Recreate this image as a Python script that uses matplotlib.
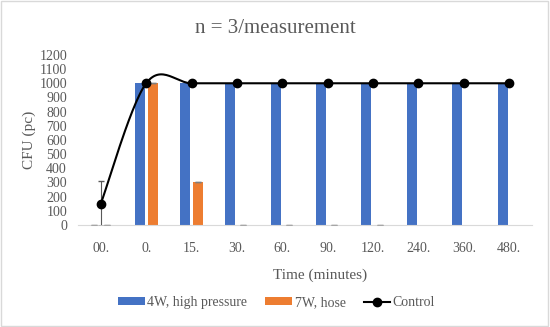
import numpy as np
import matplotlib.pyplot as plt
from matplotlib.patches import Rectangle

## data
times = ['00.', '0.', '15.', '30.', '60.', '90.', '120.', '240.', '360.', '480.']
high_pressure = [0, 1000, 1000, 1000, 1000, 1000, 1000, 1000, 1000, 1000]
hose = [0, 1000, 300, 0, 0, 0, 0, 0, 0, 0]
control = [150, 1000, 1000, 1000, 1000, 1000, 1000, 1000, 1000, 1000]
control_err = 160

# bars whose (zero) error bar caps show up in grey
hp_caps = [0]
hose_caps = [0, 1, 2, 3, 4, 5, 6]


def smooth(x, y, n=30):
    """excel-like smoothed line (bezier through points, catmull-rom handles)"""
    x = np.asarray(x, float)
    y = np.asarray(y, float)
    xs, ys = [], []
    t = np.linspace(0, 1, n)
    for i in range(len(x) - 1):
        i0 = max(i - 1, 0)
        i3 = min(i + 2, len(x) - 1)
        p0 = np.array([x[i], y[i]])
        p3 = np.array([x[i + 1], y[i + 1]])
        p1 = p0 + (p3 - np.array([x[i0], y[i0]])) / 6
        p2 = p3 - (np.array([x[i3], y[i3]]) - p0) / 6
        b = ((1 - t) ** 3)[:, None] * p0 + (3 * (1 - t) ** 2 * t)[:, None] * p1 \
            + (3 * (1 - t) * t ** 2)[:, None] * p2 + (t ** 3)[:, None] * p3
        xs.extend(b[:, 0])
        ys.extend(b[:, 1])
    return np.array(xs), np.array(ys)


plt.rcParams['font.family'] = ['Liberation Serif', 'DejaVu Serif']

fig = plt.figure(figsize=(5.5, 3.27), dpi=100)
ax = fig.add_axes([0.142, 0.312, 0.825, 0.52])

pos = np.arange(len(times))
w = 0.22
off = 0.145
blue = '#4472C4'
orange = '#ED7D31'

b1 = ax.bar(pos - off, high_pressure, w, color=blue, zorder=2)
b2 = ax.bar(pos + off, hose, w, color=orange, zorder=2)

for i in hp_caps:
    ax.errorbar(pos[i] - off, high_pressure[i], yerr=0, color='#a6a6a6', capsize=2.5, lw=0.8, zorder=3)
for i in hose_caps:
    ax.errorbar(pos[i] + off, hose[i], yerr=0, color='#a6a6a6' if hose[i] == 0 else '#7f7f7f',
                capsize=2.5, lw=0.8, zorder=3)

# control line with error bar on first point
ax.errorbar(pos[0], control[0], yerr=control_err, color='#595959', capsize=2.5, lw=0.8, zorder=3)
sx, sy = smooth(pos, control)
ax.plot(sx, sy, color='black', lw=1.5, zorder=4)
ax.plot(pos, control, 'o', color='black', ms=6, zorder=5)
l1, = ax.plot([], [], '-o', color='black', ms=6, lw=1.5)

ax.set_xlim(-0.5, len(times) - 0.5)
ax.set_ylim(0, 1200)
ax.set_yticks(np.arange(0, 1201, 100))
ax.set_xticks(pos)
ax.set_xticklabels(times)
ax.tick_params(length=0, labelsize=10, colors='#595959')
ax.tick_params(axis='x', pad=12)
ax.tick_params(axis='y', pad=8)
for s in ['top', 'right', 'left']:
    ax.spines[s].set_visible(False)
ax.spines['bottom'].set_color('#d9d9d9')

ax.set_ylabel('CFU (pc)', fontsize=11, color='#595959', labelpad=2)
ax.set_xlabel('Time (minutes)', fontsize=11, color='#595959', labelpad=10, x=0.533)
fig.text(0.5, 0.899, 'n = 3/measurement', fontsize=15, color='#595959', ha='center', va='baseline')

fig.legend([b1, b2, l1], ['4W, high pressure', '7W, hose', 'Control'], loc='center',
           bbox_to_anchor=(0.503, 0.075), ncol=3, frameon=False,
           fontsize=10, labelcolor='#595959', handlelength=1.9, handleheight=0.5, columnspacing=1.3,
           handletextpad=0.2)

fig.patches.append(Rectangle((0.002, 0.003), 0.995, 0.993, transform=fig.transFigure,
                             fill=False, edgecolor='#d9d9d9', lw=1))

fig.savefig('out.png', dpi=100)
